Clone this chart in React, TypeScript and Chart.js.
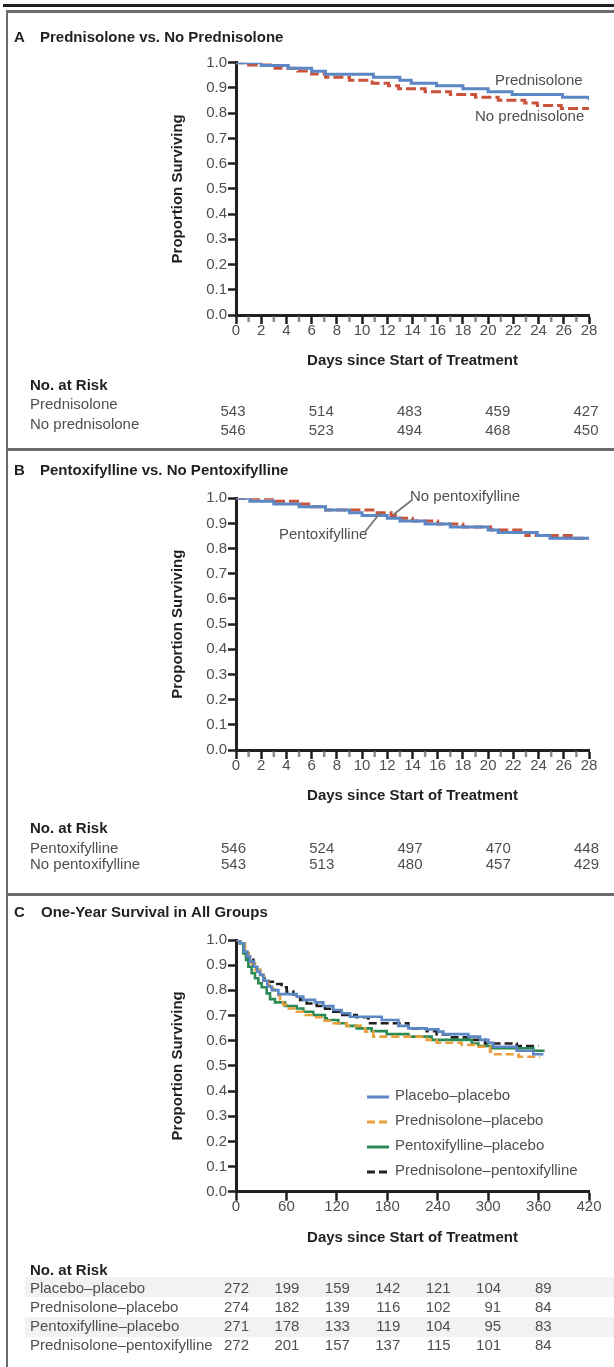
import React, { useEffect, useRef } from "react";
import { Chart, registerables } from "chart.js";

Chart.register(...registerables);

const FONT = "'Liberation Sans', Arial, Helvetica, sans-serif";
const INK = "#231f20";
const TXT = "#4f4f4f";
const BLUE = "#5b87c4";
const RED = "#c9523b";
const ORANGE = "#e89f3c";
const GREEN = "#2a8a55";
const BLACK = "#231f20";

// ---------- Panel A: Prednisolone vs. No Prednisolone ----------
const titleA = "Prednisolone vs. No Prednisolone";
const predDaysA = [0, 2.0, 4.15, 6.0, 7.1, 10.9, 13.0, 13.9, 15.9, 18.0, 20.0, 21.9, 25.9, 28];
const predSurvA = [1.0, 0.989, 0.978, 0.966, 0.954, 0.942, 0.93, 0.919, 0.909, 0.897, 0.885, 0.874, 0.863, 0.852];
const noPredDaysA = [0, 1.0, 3.1, 4.9, 6.0, 7.1, 9.0, 10.8, 12.1, 12.9, 15.0, 17.0, 19.0, 20.8, 22.9, 23.9, 25.8, 28];
const noPredSurvA = [1.0, 0.991, 0.978, 0.967, 0.955, 0.942, 0.93, 0.919, 0.909, 0.897, 0.885, 0.874, 0.863, 0.851, 0.84, 0.83, 0.818, 0.818];
const rowLabelsA = ["Prednisolone", "No prednisolone"];
const riskPredA = [543, 514, 483, 459, 427];
const riskNoPredA = [546, 523, 494, 468, 450];

// ---------- Panel B: Pentoxifylline vs. No Pentoxifylline ----------
const titleB = "Pentoxifylline vs. No Pentoxifylline";
const pentDaysB = [0, 1.1, 3.0, 5.0, 7.1, 9.0, 10.0, 12.0, 13.0, 15.0, 17.0, 20.0, 20.8, 23.9, 24.9, 28];
const pentSurvB = [1.0, 0.988, 0.977, 0.966, 0.954, 0.943, 0.932, 0.921, 0.91, 0.898, 0.886, 0.874, 0.864, 0.852, 0.841, 0.841];
const noPentDaysB = [0, 3.1, 5.1, 6.0, 7.1, 11.0, 12.3, 13.0, 14.0, 16.0, 18.0, 20.2, 22.9, 23.0, 26.8, 28];
const noPentSurvB = [1.0, 0.988, 0.977, 0.966, 0.954, 0.943, 0.932, 0.921, 0.91, 0.898, 0.886, 0.874, 0.864, 0.852, 0.841, 0.841];
const rowLabelsB = ["Pentoxifylline", "No pentoxifylline"];
const riskPentB = [546, 524, 497, 470, 448];
const riskNoPentB = [543, 513, 480, 457, 429];

const riskDaysAB = [0, 7, 14, 21, 28];
const minorDaysAB = [1, 3, 5, 7, 9, 11, 13, 15, 17, 19, 21, 23, 25, 27];

// ---------- Panel C: One-Year Survival in All Groups ----------
const titleC = "One-Year Survival in All Groups";
const groupLabelsC = ["Placebo–placebo", "Prednisolone–placebo", "Pentoxifylline–placebo", "Prednisolone–pentoxifylline"];
const plaPlaDays = [0, 4.8, 9.5, 13.5, 16.7, 21.4, 25.4, 28.6, 32.5, 37.3, 42.4, 50.4, 72.2, 80.1, 94.0, 103.9, 115.8, 125.7, 135.7, 173.3, 193.2, 205.1, 226.9, 240.8, 246.7, 276.5, 290.4, 300.3, 306.2, 334.0, 353.8, 365.7];
const plaPlaSurv = [1.0, 0.987, 0.954, 0.934, 0.914, 0.894, 0.874, 0.861, 0.838, 0.815, 0.801, 0.785, 0.775, 0.762, 0.752, 0.738, 0.722, 0.709, 0.695, 0.682, 0.659, 0.649, 0.645, 0.636, 0.626, 0.616, 0.603, 0.592, 0.576, 0.56, 0.546, 0.546];
const predPlaDays = [0, 4.8, 10.7, 14.7, 18.6, 22.6, 28.6, 32.5, 38.5, 44.4, 48.4, 52.4, 56.3, 60.3, 72.2, 82.1, 92.0, 101.9, 115.8, 131.7, 153.5, 163.4, 226.9, 238.8, 268.5, 284.4, 302.3, 308.2, 336.0, 361.8];
const predPlaSurv = [1.0, 0.987, 0.954, 0.934, 0.907, 0.881, 0.861, 0.834, 0.821, 0.801, 0.781, 0.762, 0.742, 0.728, 0.715, 0.702, 0.693, 0.679, 0.669, 0.659, 0.636, 0.616, 0.603, 0.592, 0.583, 0.576, 0.556, 0.546, 0.536, 0.536];
const pentPlaDays = [0, 4.8, 8.7, 11.9, 14.7, 18.6, 22.6, 26.6, 30.5, 36.5, 40.5, 46.4, 58.3, 72.2, 80.1, 92.0, 105.9, 107.9, 121.8, 131.7, 143.6, 161.4, 179.3, 205.1, 232.8, 280.4, 288.4, 304.3, 353.8, 365.7];
const pentPlaSurv = [1.0, 0.987, 0.947, 0.921, 0.894, 0.868, 0.848, 0.828, 0.812, 0.788, 0.765, 0.752, 0.738, 0.728, 0.715, 0.702, 0.689, 0.682, 0.669, 0.659, 0.649, 0.638, 0.626, 0.616, 0.603, 0.589, 0.579, 0.57, 0.56, 0.556];
const predPentDays = [0, 4.8, 8.7, 14.7, 20.6, 24.6, 28.6, 32.5, 38.5, 46.4, 54.3, 60.3, 68.2, 76.2, 84.1, 96.0, 105.9, 115.8, 123.8, 143.6, 157.5, 205.1, 226.9, 238.8, 254.7, 282.4, 296.3, 334.0, 359.8];
const predPentSurv = [1.0, 0.987, 0.954, 0.921, 0.901, 0.881, 0.861, 0.848, 0.834, 0.825, 0.812, 0.795, 0.784, 0.762, 0.748, 0.738, 0.727, 0.715, 0.702, 0.693, 0.669, 0.649, 0.638, 0.625, 0.613, 0.603, 0.589, 0.579, 0.579];
const riskDaysC = [0, 60, 120, 180, 240, 300, 360];
const riskPlaPla = [272, 199, 159, 142, 121, 104, 89];
const riskPredPla = [274, 182, 139, 116, 102, 91, 84];
const riskPentPla = [271, 178, 133, 119, 104, 95, 83];
const riskPredPent = [272, 201, 157, 137, 115, 101, 84];

const pts = (xs: number[], ys: number[]) => xs.map((x, i) => ({ x, y: ys[i] }));

type PutOpts = { bold?: boolean; color?: string; align?: CanvasTextAlign };
function put(ctx: CanvasRenderingContext2D, s: string, x: number, y: number, o: PutOpts = {}) {
  ctx.save();
  ctx.font = `${o.bold ? "bold " : ""}15px ${FONT}`;
  ctx.fillStyle = o.color || TXT;
  ctx.textAlign = o.align || "left";
  ctx.textBaseline = "alphabetic";
  ctx.fillText(s, x, y);
  ctx.restore();
}

function makeOptions(xMax: number, xStep: number, padTop: number, padBottom: number): any {
  const tickFont = { family: FONT, size: 15, lineHeight: 0.87 };
  const titleFont = { family: FONT, size: 15, weight: "bold", lineHeight: 1.2 };
  return {
    responsive: false,
    animation: false,
    devicePixelRatio: 1,
    events: [],
    layout: { padding: { left: 0, right: 25, top: padTop, bottom: padBottom } },
    plugins: { legend: { display: false }, tooltip: { enabled: false }, title: { display: false } },
    elements: { point: { radius: 0 }, line: { tension: 0 } },
    scales: {
      x: {
        type: "linear",
        min: 0,
        max: xMax,
        afterFit: (s: any) => {
          s.height = 55;
        },
        border: { display: true, color: INK, width: 3 },
        grid: { display: true, drawOnChartArea: false, drawTicks: true, tickLength: 9, tickWidth: 2.5, tickColor: INK },
        ticks: { stepSize: xStep, autoSkip: false, maxRotation: 0, padding: 0, color: TXT, font: tickFont },
        title: { display: true, text: "Days since Start of Treatment", color: INK, font: titleFont, padding: { top: 0, bottom: 0 } },
      },
      y: {
        type: "linear",
        min: 0,
        max: 1,
        afterFit: (s: any) => {
          s.width = 236;
        },
        border: { display: true, color: INK, width: 3 },
        grid: { display: true, drawOnChartArea: false, drawTicks: true, tickLength: 8, tickWidth: 2.5, tickColor: INK },
        ticks: { stepSize: 0.1, padding: 1, color: TXT, font: { family: FONT, size: 15 }, callback: (v: any) => Number(v).toFixed(1) },
        title: { display: true, text: "Proportion Surviving", color: INK, font: titleFont, padding: { top: 169, bottom: 0 } },
      },
    },
  };
}

const minorTicks = {
  id: "minorTicks",
  afterDraw(chart: any) {
    const xs = chart.scales.x;
    const ctx = chart.ctx;
    const b = chart.chartArea.bottom;
    ctx.save();
    ctx.strokeStyle = "#8c8c8c";
    ctx.lineWidth = 2.5;
    for (const d of minorDaysAB) {
      const px = xs.getPixelForValue(d);
      ctx.beginPath();
      ctx.moveTo(px, b + 1.5);
      ctx.lineTo(px, b + 7);
      ctx.stroke();
    }
    ctx.restore();
  },
};

const decorA = {
  id: "decorA",
  afterDraw(chart: any) {
    const ctx = chart.ctx;
    const xs = chart.scales.x;
    put(ctx, "A", 14, 27.5, { bold: true, color: INK });
    put(ctx, titleA, 40, 27.5, { bold: true, color: INK });
    put(ctx, "Prednisolone", 495, 70.5);
    put(ctx, "No prednisolone", 475, 107);
    put(ctx, "No. at Risk", 30, 376, { bold: true, color: INK });
    put(ctx, rowLabelsA[0], 30, 395);
    put(ctx, rowLabelsA[1], 30, 415);
    riskDaysAB.forEach((d, i) => {
      const px = xs.getPixelForValue(d) - 3;
      put(ctx, String(riskPredA[i]), px, 402, { align: "center" });
      put(ctx, String(riskNoPredA[i]), px, 421, { align: "center" });
    });
  },
};

const decorB = {
  id: "decorB",
  afterDraw(chart: any) {
    const ctx = chart.ctx;
    const xs = chart.scales.x;
    put(ctx, "B", 14, 24.5, { bold: true, color: INK });
    put(ctx, titleB, 40, 24.5, { bold: true, color: INK });
    put(ctx, "No pentoxifylline", 410, 51);
    put(ctx, "Pentoxifylline", 279, 89);
    ctx.save();
    ctx.strokeStyle = "#7a7a7a";
    ctx.lineWidth = 2;
    ctx.beginPath();
    ctx.moveTo(412, 50);
    ctx.lineTo(393, 65);
    ctx.moveTo(365, 82);
    ctx.lineTo(380, 63);
    ctx.stroke();
    ctx.restore();
    put(ctx, "No. at Risk", 30, 383, { bold: true, color: INK });
    put(ctx, rowLabelsB[0], 30, 402.5);
    put(ctx, rowLabelsB[1], 30, 419);
    riskDaysAB.forEach((d, i) => {
      const px = xs.getPixelForValue(d) - 2.5;
      put(ctx, String(riskPentB[i]), px, 402.5, { align: "center" });
      put(ctx, String(riskNoPentB[i]), px, 419, { align: "center" });
    });
  },
};

const decorC = {
  id: "decorC",
  beforeDraw(chart: any) {
    const ctx = chart.ctx;
    ctx.save();
    ctx.fillStyle = "#f2f2f2";
    ctx.fillRect(25, 382, 589, 20);
    ctx.fillRect(25, 422, 589, 20);
    ctx.restore();
  },
  afterDraw(chart: any) {
    const ctx = chart.ctx;
    const xs = chart.scales.x;
    put(ctx, "C", 14, 21.5, { bold: true, color: INK });
    put(ctx, titleC, 41, 21.5, { bold: true, color: INK });
    // legend
    const ds = chart.data.datasets;
    const legY = [202, 227, 252, 277];
    ds.forEach((d: any, i: number) => {
      ctx.save();
      ctx.strokeStyle = d.borderColor;
      ctx.lineWidth = 3;
      ctx.setLineDash(d.borderDash || []);
      ctx.beginPath();
      ctx.moveTo(367, legY[i]);
      ctx.lineTo(389, legY[i]);
      ctx.stroke();
      ctx.restore();
      put(ctx, d.label, 395, legY[i] + 2.5);
    });
    // risk table
    put(ctx, "No. at Risk", 30, 379.5, { bold: true, color: INK });
    const rows = [riskPlaPla, riskPredPla, riskPentPla, riskPredPent];
    const rowY = [398.3, 417.3, 436.3, 455.3];
    rows.forEach((vals, r) => {
      put(ctx, groupLabelsC[r], 30, rowY[r]);
      riskDaysC.forEach((d, i) => {
        put(ctx, String(vals[i]), xs.getPixelForValue(d) + 13, rowY[r], { align: "right" });
      });
    });
  },
};

export default function App() {
  const refA = useRef<HTMLCanvasElement>(null);
  const refB = useRef<HTMLCanvasElement>(null);
  const refC = useRef<HTMLCanvasElement>(null);

  useEffect(() => {
    Chart.defaults.font.family = FONT;
    Chart.defaults.font.size = 15;
    const step = { stepped: true, pointRadius: 0, fill: false, borderCapStyle: "butt", borderJoinStyle: "miter" };

    const a = new Chart(refA.current as HTMLCanvasElement, {
      type: "line",
      data: {
        datasets: [
          { ...step, label: "Prednisolone", data: pts(predDaysA, predSurvA), borderColor: BLUE, borderWidth: 3 },
          { ...step, label: "No prednisolone", data: pts(noPredDaysA, noPredSurvA), borderColor: RED, borderWidth: 3, borderDash: [10, 4] },
        ],
      } as any,
      options: makeOptions(28, 2, 48.7, 434 - 301 - 55),
      plugins: [minorTicks, decorA],
    });

    const b = new Chart(refB.current as HTMLCanvasElement, {
      type: "line",
      data: {
        datasets: [
          { ...step, label: "Pentoxifylline", data: pts(pentDaysB, pentSurvB), borderColor: BLUE, borderWidth: 3 },
          { ...step, label: "No pentoxifylline", data: pts(noPentDaysB, noPentSurvB), borderColor: RED, borderWidth: 3, borderDash: [10, 4] },
        ],
      } as any,
      options: makeOptions(28, 2, 48.3, 443 - 300 - 55),
      plugins: [minorTicks, decorB],
    });

    const c = new Chart(refC.current as HTMLCanvasElement, {
      type: "line",
      data: {
        datasets: [
          { ...step, label: groupLabelsC[0], data: pts(plaPlaDays, plaPlaSurv), borderColor: BLUE, borderWidth: 2.6 },
          { ...step, label: groupLabelsC[1], data: pts(predPlaDays, predPlaSurv), borderColor: ORANGE, borderWidth: 2.6, borderDash: [8, 4] },
          { ...step, label: groupLabelsC[2], data: pts(pentPlaDays, pentPlaSurv), borderColor: GREEN, borderWidth: 2.6 },
          { ...step, label: groupLabelsC[3], data: pts(predPentDays, predPentSurv), borderColor: BLACK, borderWidth: 2.6, borderDash: [8, 4] },
        ],
      } as any,
      options: makeOptions(420, 60, 45, 472 - 296.7 - 55),
      plugins: [decorC],
    });

    return () => {
      a.destroy();
      b.destroy();
      c.destroy();
    };
  }, []);

  const abs = (s: React.CSSProperties): React.CSSProperties => ({ position: "absolute", ...s });

  return (
    <div style={abs({ left: 0, top: 0, width: 614, height: 1367, overflow: "hidden", background: "#fff" })}>
      <canvas ref={refA} width={614} height={434} style={abs({ left: 0, top: 14 })} />
      <canvas ref={refB} width={614} height={443} style={abs({ left: 0, top: 450 })} />
      <canvas ref={refC} width={614} height={472} style={abs({ left: 0, top: 895 })} />
      <div style={abs({ left: 3, top: 4, width: 611, height: 3, background: "#231f20" })} />
      <div style={abs({ left: 6, top: 10, width: 608, height: 3, background: "#6b6b6b" })} />
      <div style={abs({ left: 6, top: 10, width: 2, height: 1357, background: "#6b6b6b" })} />
      <div style={abs({ left: 6, top: 448, width: 608, height: 3, background: "#6b6b6b" })} />
      <div style={abs({ left: 6, top: 893, width: 608, height: 3, background: "#6b6b6b" })} />
    </div>
  );
}
